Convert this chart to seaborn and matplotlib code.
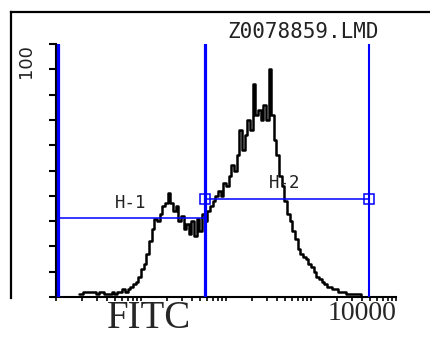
import numpy as np
import matplotlib
matplotlib.use("Agg")
import matplotlib.pyplot as plt
from matplotlib.ticker import LogLocator, NullFormatter
import seaborn as sns

# ---------------- data ----------------
n_channels = 128          # log-scale channels spanning 10^0 .. 10^4
first_channel = 8
counts = [1, 1, 2, 2, 2, 2, 2, 1, 2, 2, 1, 1, 1, 2, 1, 2, 2, 3, 2, 3,
          4, 5, 6, 8, 11, 13, 17, 22, 27, 31, 30, 33, 36, 37, 41, 37, 34, 36, 30, 32,
          27, 29, 25, 30, 24, 31, 26, 33, 30, 34, 36, 38, 40, 42, 40, 45, 44, 48, 52, 50,
          56, 66, 58, 64, 70, 66, 84, 72, 74, 70, 76, 70, 90, 72, 62, 56, 48, 44, 38, 33,
          30, 26, 23, 19, 17, 16, 15, 13, 12, 10, 8, 7, 6, 5, 4, 4, 3, 3, 2, 2,
          2, 1, 1, 1, 1, 1, 1, 0]
channels = np.arange(first_channel, first_channel + len(counts))
fitc = 10 ** (4 * (channels + 0.5) / n_channels)

x_major = [1, 10, 100, 1000, 10000]
x_major_labels = ["", "", "", "", "10000"]
y_ticks = list(range(0, 101, 10))
y_tick_labels = [""] * 10 + ["100"]

gate_x = [1.056, 57.0, 4800.0]        # vertical gate boundaries
h1_range = (1.056, 57.0)
h1_level = 31.2
h2_range = (57.0, 4800.0)
h2_level = 38.7
gate_names = ["H-1", "H-2"]
file_name = "Z0078859.LMD"
x_title = "FITC"

# ---------------- figure ----------------
W, H = 430, 338
sns.set_style("white")
plt.rcParams["font.family"] = ["DejaVu Sans"]
fig = plt.figure(figsize=(W / 100, H / 100), dpi=100)

def fx(px):
    return px / W

def fy(py):
    return 1 - py / H

blue = "#0000FF"

# outer frame (left & top lines only)
bg = fig.add_axes([fx(10.5), fy(298), 1.0, fy(11.5) - fy(298)], zorder=0)
bg.set_xticks([])
bg.set_yticks([])
for s in ["bottom", "right"]:
    bg.spines[s].set_visible(False)
for s in ["left", "top"]:
    bg.spines[s].set_linewidth(1.6)
    bg.spines[s].set_color("black")

ax = fig.add_axes([fx(56), fy(297), (396 - 56) / W, (297 - 44) / H], zorder=1)
ax.patch.set_alpha(0)
ax.set_xscale("log")

sns.lineplot(x=fitc, y=counts, drawstyle="steps-mid", color="black",
             linewidth=1.8, ax=ax, zorder=3)

# gates
ax.axvline(gate_x[0], color=blue, lw=2.3, zorder=4)
ax.axvline(gate_x[1], color=blue, lw=2.3, zorder=4)
ax.axvline(gate_x[2], color=blue, lw=1.5, zorder=4)
ax.hlines(h1_level, h1_range[0], h1_range[1], color=blue, lw=1.1, zorder=4)
ax.hlines(h2_level, h2_range[0], h2_range[1], color=blue, lw=1.1, zorder=4)
ax.plot([h2_range[0], h2_range[1]], [h2_level, h2_level], ls="none", marker="s",
        ms=7.5, mfc="none", mec=blue, mew=1.1, zorder=5)

ax.text(7.63, 35.2, gate_names[0], family="DejaVu Sans Mono", fontsize=12.5,
        ha="center", va="baseline", color="#222222")
ax.text(494, 43.1, gate_names[1], family="DejaVu Sans Mono", fontsize=12.5,
        ha="center", va="baseline", color="#222222")

ax.set_xlim(1, 10000)
ax.set_ylim(0, 100)

for s in ["top", "right"]:
    ax.spines[s].set_visible(False)
for s in ["left", "bottom"]:
    ax.spines[s].set_linewidth(1.5)
    ax.spines[s].set_color("black")

ax.set_xticks(x_major, x_major_labels)
ax.xaxis.set_minor_locator(LogLocator(base=10, subs=np.arange(2, 10)))
ax.xaxis.set_minor_formatter(NullFormatter())
ax.tick_params(axis="x", which="both", direction="out", length=3, width=1.2,
               pad=0, color="black", bottom=True)
for lab in ax.get_xticklabels():
    lab.set_family("Liberation Serif")
    lab.set_fontsize(20)
    lab.set_ha("right")

ax.set_yticks(y_ticks, y_tick_labels)
ax.tick_params(axis="y", which="both", direction="out", length=5, width=1.5,
               pad=10, color="black", left=True)
for lab in ax.get_yticklabels():
    lab.set_rotation(90)
    lab.set_va("top")
    lab.set_fontsize(13)
    lab.set_color("#222222")

ax.set_xlabel(x_title, family="Liberation Serif", fontsize=28, va="bottom")
ax.xaxis.set_label_coords((149.5 - 56) / 340, (297 - 337.5) / 253)

fig.text(fx(303.5), fy(38), file_name, family="DejaVu Sans Mono", fontsize=15,
         ha="center", va="baseline", color="#222222")

fig.savefig("out.png", dpi=100)
